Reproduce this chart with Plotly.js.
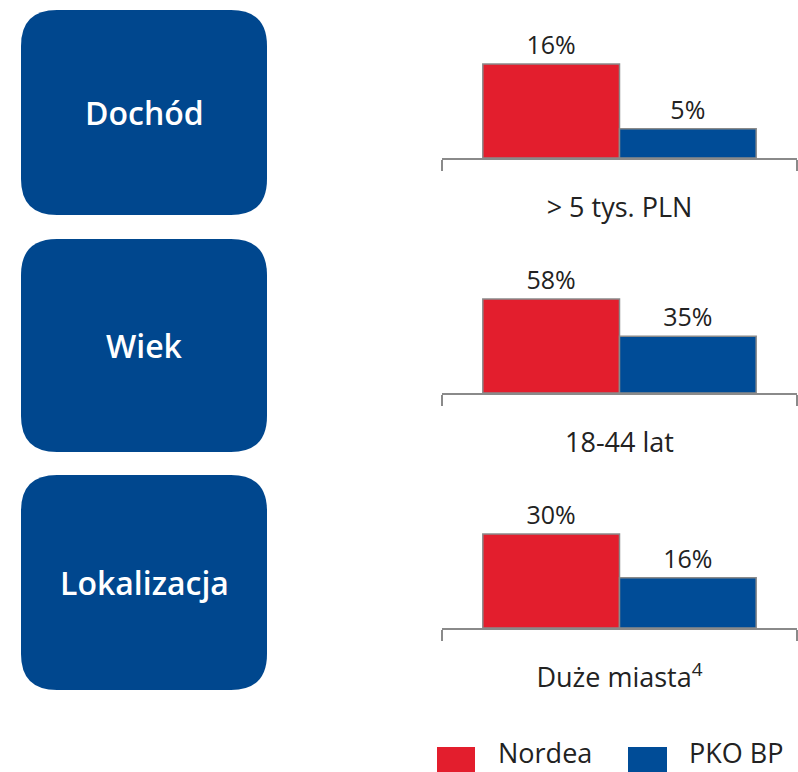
<!DOCTYPE html>
<html>
<head>
<meta charset="utf-8">
<script src="https://cdn.plot.ly/plotly-3.0.1.min.js"></script>
<style>html,body{margin:0;padding:0;background:#fff;}#chart{width:798px;height:772px;}</style>
</head>
<body>
<div id="chart"></div>
<script>
// ---- data ----
const groupTitles = ["Dochód", "Wiek", "Lokalizacja"];
const categories = ["> 5 tys. PLN", "18-44 lat", "Duże miasta<sup>4</sup>"];
const seriesNames = ["Nordea", "PKO BP"];
const nordea = [16, 58, 30];
const pkobp = [5, 35, 16];
const seriesValues = [nordea, pkobp];

// ---- styles ----
const W = 798, H = 772;
const colors = ["#E31E2D", "#004C97"];
const boxColor = "#00478E";
const textColor = "#222222";
const FONT = "'Open Sans', 'Noto Sans', sans-serif";
const panelBottoms = [158, 393, 628];   // pixel y of axis line
const panelHeight = 117.5;
const axisLeft = 442, axisRight = 797;
const boxes = [[21, 10, 267, 215], [21, 239, 267, 452], [21, 475, 267, 690]];
const radius = 36;

const px = x => x / W;
const py = y => 1 - y / H;

const traces = [];
const layout = {
  width: W, height: H,
  margin: {l: 0, r: 0, t: 0, b: 0},
  paper_bgcolor: "#ffffff", plot_bgcolor: "rgba(0,0,0,0)",
  showlegend: false,
  barmode: "group", bargap: 0.23, bargroupgap: 0,
  font: {family: FONT, color: textColor},
  shapes: [], annotations: []
};

categories.forEach((cat, i) => {
  const xa = i === 0 ? "x" : "x" + (i + 1);
  const ya = i === 0 ? "y" : "y" + (i + 1);
  const maxV = Math.max(nordea[i], pkobp[i]);
  seriesValues.forEach((vals, s) => {
    traces.push({
      type: "bar", x: [cat], y: [vals[i]], name: seriesNames[s],
      xaxis: xa, yaxis: ya,
      marker: {color: colors[s], line: {color: "#8a8a8a", width: 1.5}},
      text: [vals[i] + "%"], textposition: "outside", cliponaxis: false,
      textfont: {size: 25, color: textColor, family: FONT},
      hoverinfo: "none"
    });
  });
  const bottom = panelBottoms[i];
  layout[i === 0 ? "xaxis" : "xaxis" + (i + 1)] = {
    domain: [px(axisLeft), px(axisRight)], anchor: ya,
    type: "category", range: [-0.5, 0.5],
    showline: true, linecolor: "#8a8a8a", linewidth: 2,
    ticks: "outside", tickson: "boundaries", ticklen: 11, tickwidth: 2, tickcolor: "#8a8a8a",
    showgrid: false, zeroline: false, fixedrange: true,
    tickfont: {size: 27, color: textColor, family: FONT},
    ticklabelstandoff: 25
  };
  layout[i === 0 ? "yaxis" : "yaxis" + (i + 1)] = {
    domain: [py(bottom), py(bottom - panelHeight)], anchor: xa,
    range: [0, maxV / 0.8], visible: false, fixedrange: true
  };
});

// rounded boxes with titles
function roundRectPath(x0, y0, x1, y1, r) {
  const P = (x, y) => px(x).toFixed(5) + "," + py(y).toFixed(5);
  return "M" + P(x0 + r, y0) + " L" + P(x1 - r, y0) + " Q" + P(x1, y0) + " " + P(x1, y0 + r) +
    " L" + P(x1, y1 - r) + " Q" + P(x1, y1) + " " + P(x1 - r, y1) +
    " L" + P(x0 + r, y1) + " Q" + P(x0, y1) + " " + P(x0, y1 - r) +
    " L" + P(x0, y0 + r) + " Q" + P(x0, y0) + " " + P(x0 + r, y0) + " Z";
}
boxes.forEach((b, i) => {
  layout.shapes.push({type: "path", xref: "paper", yref: "paper",
    path: roundRectPath(b[0], b[1], b[2], b[3], radius),
    fillcolor: boxColor, line: {width: 0}, layer: "below"});
  layout.annotations.push({xref: "paper", yref: "paper",
    x: px((b[0] + b[2]) / 2), y: py((b[1] + b[3]) / 2), xanchor: "center", yanchor: "middle",
    text: groupTitles[i], showarrow: false,
    font: {size: 32, color: "#ffffff", family: FONT, weight: 600}});
});

// legend
const legendItems = [{x0: 437, x1: 475, tx: 497}, {x0: 628, x1: 667, tx: 688}];
seriesNames.forEach((name, s) => {
  const it = legendItems[s];
  layout.shapes.push({type: "rect", xref: "paper", yref: "paper",
    x0: px(it.x0), x1: px(it.x1), y0: py(774), y1: py(747),
    fillcolor: colors[s], line: {width: 0}});
  layout.annotations.push({xref: "paper", yref: "paper", x: px(it.tx), y: 0,
    xanchor: "left", yanchor: "bottom", borderpad: 0, text: name, showarrow: false,
    font: {size: 27, color: textColor, family: FONT}});
});

Plotly.newPlot("chart", traces, layout, {displayModeBar: false, staticPlot: true});
</script>
</body>
</html>
